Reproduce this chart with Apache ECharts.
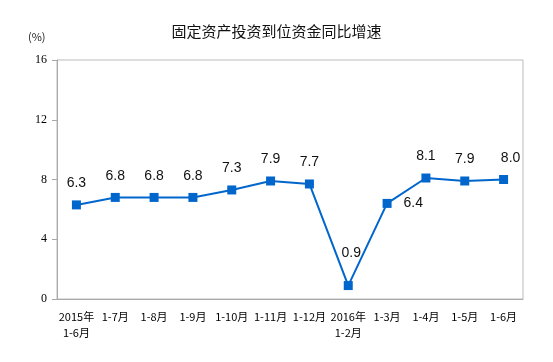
<!DOCTYPE html>
<html><head><meta charset="utf-8">
<script src="https://cdn.jsdelivr.net/npm/echarts@6/dist/echarts.min.js"></script>
<style>html,body{margin:0;padding:0;background:#fff}#c{width:553px;height:362px}</style>
</head><body><div id="c"></div>
<script>
const categories = ['2015年\n1-6月','1-7月','1-8月','1-9月','1-10月','1-11月','1-12月','2016年\n1-2月','1-3月','1-4月','1-5月','1-6月'];
const values = [6.3, 6.8, 6.8, 6.8, 7.3, 7.9, 7.7, 0.9, 6.4, 8.1, 7.9, 8.0];
const yTicks = [0, 4, 8, 12, 16];

const data = values.map((v, i) => {
  const d = { value: v };
  if (i === 8) d.label = { position: 'right', distance: 0, offset: [12, 0] };
  if (i === 7) d.label = { offset: [3, -11] };
  if (i === 11) d.label = { offset: [7, 0] };
  return d;
});

const chart = echarts.init(document.getElementById('c'));
chart.setOption({
  animation: false,
  title: {
    text: '固定资产投资到位资金同比增速',
    left: 'center', top: 19,
    textStyle: { fontFamily: 'Noto Sans CJK SC', fontSize: 15, fontWeight: 'normal', color: '#111' }
  },
  graphic: [{
    type: 'text', left: 28, top: 31,
    style: { text: '(%)', font: '11px "Noto Sans CJK SC"', fill: '#222' }
  }],
  grid: { left: 57, right: 30, top: 60, bottom: 63, show: true, borderColor: '#bbb', borderWidth: 1 },
  xAxis: {
    type: 'category', data: categories, boundaryGap: true,
    axisLine: { lineStyle: { color: '#aaa' } },
    axisTick: { inside: true, length: 4, lineStyle: { color: '#aaa' } },
    axisLabel: { interval: 0, color: '#000', fontFamily: 'Noto Sans CJK SC', fontSize: 11, margin: 10, lineHeight: 16 }
  },
  yAxis: {
    type: 'value', min: yTicks[0], max: yTicks[yTicks.length - 1], interval: 4,
    splitLine: { show: false },
    axisLine: { show: true, lineStyle: { color: '#aaa' } },
    axisTick: { show: true, length: 5, lineStyle: { color: '#aaa' } },
    axisLabel: { color: '#000', fontFamily: 'Liberation Serif', fontSize: 12, margin: 10 }
  },
  series: [{
    type: 'line', data: data,
    symbol: 'rect', symbolSize: 9,
    lineStyle: { color: '#0066cc', width: 2 },
    itemStyle: { color: '#0066cc' },
    label: { show: true, position: 'top', distance: 10, color: '#111', fontFamily: 'Liberation Sans', fontSize: 14,
      formatter: p => p.value.toFixed(1) }
  }]
});
</script></body></html>
